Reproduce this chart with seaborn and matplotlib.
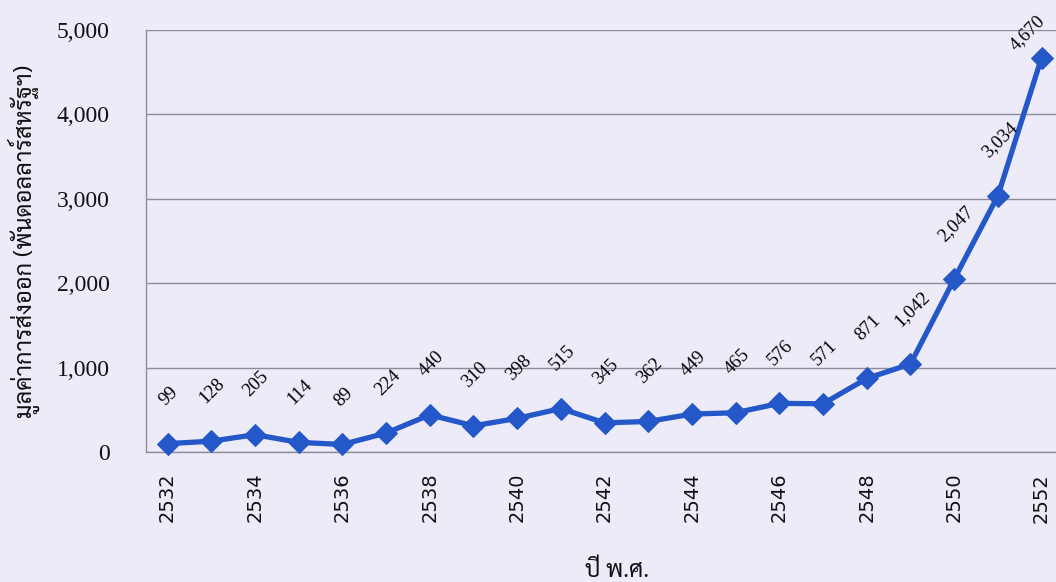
import matplotlib
matplotlib.use("Agg")
import matplotlib.pyplot as plt
import seaborn as sns
import pandas as pd
from matplotlib.ticker import FuncFormatter

years = list(range(2532, 2553))
values = [99, 128, 205, 114, 89, 224, 440, 310, 398, 515, 345, 362, 449, 465, 576, 571, 871, 1042, 2047, 3034, 4670]
tick_years = list(range(2532, 2553, 2))
y_ticks = [0, 1000, 2000, 3000, 4000, 5000]
y_label = "มูลค่าการส่งออก (พันดอลลาร์สหรัฐฯ)"
x_label = "ปี พ.ศ."

sns.set_theme(style="white")
bg = "#EEEBF8"
fig = plt.figure(figsize=(10.56, 5.82), dpi=100, facecolor=bg)
ax = fig.add_axes([0.138, 0.2234, 0.869, 0.7251])
ax.set_facecolor(bg)

df = pd.DataFrame({"year": years, "value": values})
sns.lineplot(data=df, x="year", y="value", ax=ax, color="#2458C8", linewidth=3.8,
             marker="D", markersize=11.5, markeredgecolor="#2458C8", clip_on=False, zorder=3)

ax.set_xlim(2531.5, 2552.5)
ax.set_ylim(0, 5000)
ax.set_yticks(y_ticks)
ax.yaxis.set_major_formatter(FuncFormatter(lambda v, p: f"{int(v):,}"))
ax.set_xticks(tick_years)
ax.set_xticklabels([str(y) for y in tick_years], rotation=90, fontsize=14, family="DejaVu Sans", color="#111111")
for lab in ax.get_yticklabels():
    lab.set_fontfamily("Liberation Serif")
    lab.set_fontsize(17)
    lab.set_color("#111111")
ax.tick_params(axis="y", length=0, pad=26)
ax.tick_params(axis="x", length=0, pad=15)
ax.grid(axis="y", color="#8E8C9C", linewidth=1.0)
ax.grid(axis="x", visible=False)
for s in ["top", "right"]:
    ax.spines[s].set_visible(False)
for s in ["left", "bottom"]:
    ax.spines[s].set_color("#8E8C9C")
    ax.spines[s].set_linewidth(1.0)

for i, (x, v) in enumerate(zip(years, values)):
    if i == len(values) - 1:
        off = (-10, 3)
    else:
        off = (1, 25)
    ax.annotate(f"{v:,}", (x, v), xytext=off, textcoords="offset points",
                rotation=45, ha="center", va="bottom", fontsize=13.5,
                family="Liberation Serif", color="#000000", annotation_clip=False)

tf = ["Sarabun", "DejaVu Sans"]
ax.set_ylabel(y_label, family=tf, fontsize=17, color="#111111", labelpad=12)
ax.set_xlabel(x_label, family=tf, fontsize=17, color="#111111")
ax.xaxis.set_label_coords(0.514, -0.255)

fig.savefig("out.png", dpi=100, facecolor=bg)
